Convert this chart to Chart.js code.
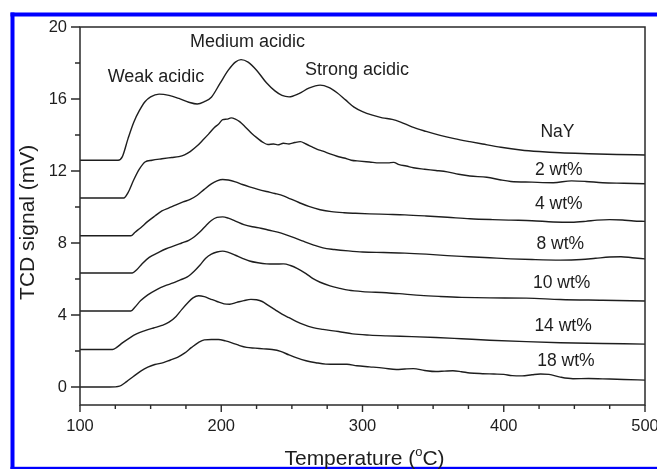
<!DOCTYPE html>
<html>
<head>
<meta charset="utf-8">
<script src="https://cdn.jsdelivr.net/npm/chart.js@4.4.1/dist/chart.umd.min.js"></script>
<style>
  html, body { margin: 0; padding: 0; background: #ffffff; }
  #wrap { width: 657px; height: 469px; position: relative; }
  canvas { display: block; }
</style>
</head>
<body>
<div id="wrap"><canvas id="tpd" width="657" height="469"></canvas></div>
<script>
// NH3-TPD profiles: temperature (°C) and TCD signal (mV), one pair of arrays per sample
const tNaY = [100,127,130,134,138,142,146,150,156,163,170,177,183,188,193,199,205,210,214,219,225,232,238,243,248,255,262,270,276,282,288,294,300,307,314,321,327,335,345,355,365,376,385,398,412,425,440,460,480,500];
const vNaY = [12.6,12.6,12.8,13.8,14.7,15.35,15.85,16.12,16.27,16.2,16.03,15.82,15.72,15.85,16.1,16.85,17.6,18.05,18.19,18.05,17.6,16.9,16.45,16.2,16.12,16.3,16.6,16.77,16.65,16.35,15.95,15.55,15.3,15.1,14.95,14.87,14.72,14.45,14.2,13.98,13.8,13.63,13.5,13.32,13.17,13.08,13.01,12.96,12.92,12.89];

const t2 = [100,131,134,138,142,146,151,158,165,170,174,178,183,187,191,195,198,201,204,207,210,213,217,222,226,229,233,237,240,244,248,252,256,260,264,268,272,277,282,287,292,298,305,312,318,322,326,331,336,344,352,360,368,376,388,398,405,420,435,448,458,470,485,500];
const v2 = [10.5,10.5,10.8,11.5,12.1,12.5,12.6,12.68,12.75,12.8,12.9,13.08,13.4,13.72,14.05,14.4,14.6,14.85,14.88,14.95,14.88,14.74,14.45,14.05,13.8,13.62,13.47,13.5,13.45,13.54,13.5,13.58,13.63,13.5,13.35,13.2,13.1,12.95,12.82,12.72,12.6,12.55,12.5,12.45,12.45,12.48,12.35,12.28,12.18,12.1,12.03,11.95,11.82,11.72,11.65,11.5,11.42,11.38,11.35,11.45,11.42,11.35,11.32,11.29];

const t4 = [100,136,139,143,148,153,158,163,168,173,178,183,188,193,197,201,205,210,215,220,226,232,238,244,249,255,262,270,278,287,295,305,318,330,345,360,376,392,405,420,435,448,458,466,475,484,492,500];
const v4 = [8.4,8.4,8.6,8.85,9.2,9.5,9.78,9.95,10.12,10.28,10.42,10.65,10.98,11.28,11.45,11.53,11.5,11.4,11.25,11.12,10.98,10.86,10.75,10.62,10.45,10.25,10.03,9.85,9.74,9.68,9.65,9.62,9.59,9.56,9.5,9.43,9.35,9.3,9.27,9.24,9.17,9.15,9.2,9.27,9.3,9.28,9.22,9.2];

const t8 = [100,137,140,144,149,155,161,167,172,177,181,185,189,193,197,201,205,210,216,222,228,234,240,246,252,258,265,272,280,290,300,315,330,345,360,375,390,405,420,440,455,465,475,483,491,500];
const v8 = [6.33,6.33,6.5,6.85,7.2,7.45,7.68,7.85,8.0,8.15,8.35,8.62,8.95,9.25,9.42,9.45,9.38,9.22,9.02,8.9,8.82,8.71,8.6,8.45,8.28,8.1,7.9,7.73,7.64,7.56,7.5,7.47,7.44,7.38,7.3,7.24,7.18,7.12,7.08,7.05,7.08,7.15,7.22,7.24,7.18,7.12];

const t10 = [100,136,139,143,148,154,160,166,171,176,181,185,189,193,197,201,205,210,215,220,226,232,238,244,249,254,260,265,270,277,284,290,300,317,330,341,355,370,390,416,440,470,500];
const v10 = [4.22,4.22,4.45,4.8,5.12,5.4,5.62,5.78,5.95,6.12,6.45,6.78,7.15,7.38,7.5,7.55,7.48,7.32,7.15,7.0,6.9,6.84,6.83,6.84,6.75,6.58,6.3,6.02,5.82,5.62,5.48,5.38,5.3,5.24,5.16,5.09,5.03,4.98,4.95,4.94,4.86,4.82,4.78];

const t14 = [100,123,126,130,135,140,146,152,158,163,168,172,176,180,184,188,192,197,202,206,211,216,221,225,229,233,238,243,248,253,258,265,272,283,293,305,317,335,352,370,390,416,440,470,500];
const v14 = [2.08,2.08,2.2,2.45,2.72,2.95,3.13,3.28,3.42,3.6,3.92,4.3,4.65,4.95,5.07,5.02,4.9,4.75,4.62,4.6,4.7,4.8,4.87,4.85,4.75,4.55,4.3,4.05,3.85,3.65,3.48,3.3,3.2,3.08,2.95,2.88,2.84,2.8,2.75,2.68,2.6,2.52,2.46,2.42,2.38];

const t18 = [100,121,128,133,138,143,148,153,159,164,169,174,179,184,188,193,198,203,208,213,218,224,230,236,242,248,254,260,267,274,282,289,296,305,315,324,330,336,344,352,358,364,370,376,385,393,400,406,413,420,426,432,440,449,460,470,485,500];
const v18 = [0,0,0.05,0.3,0.6,0.88,1.1,1.25,1.35,1.5,1.65,1.88,2.2,2.48,2.62,2.64,2.64,2.56,2.44,2.3,2.2,2.16,2.12,2.08,1.98,1.78,1.6,1.46,1.35,1.27,1.26,1.26,1.18,1.12,1.05,0.97,1.0,1.02,0.92,0.86,0.88,0.9,0.85,0.78,0.74,0.72,0.7,0.63,0.62,0.68,0.72,0.7,0.55,0.46,0.47,0.45,0.42,0.38];

// Sample names and where their labels sit (temperature, signal)
const sampleNames = ['NaY', '2 wt%', '4 wt%', '8 wt%', '10 wt%', '14 wt%', '18 wt%'];
const sampleLabelT = [438, 439, 439, 440, 441, 442, 444];
const sampleLabelV = [14.18, 12.06, 10.13, 7.91, 5.79, 3.39, 1.46];

// Acid-site annotations above the NaY profile
const siteNames = ['Weak acidic', 'Medium acidic', 'Strong acidic'];
const siteT = [153.8, 218.6, 296.1];
const siteV = [17.21, 19.15, 17.6];

// Axis ticks
const xMajor = [100, 200, 300, 400, 500];
const xMinor = [125, 150, 175, 225, 250, 275, 325, 350, 375, 425, 450, 475];
const yMajor = [0, 4, 8, 12, 16, 20];
const yMinor = [2, 6, 10, 14, 18];

const temps = [tNaY, t2, t4, t8, t10, t14, t18];
const signals = [vNaY, v2, v4, v8, v10, v14, v18];

const INK = '#1e1e1e';
const FONT = '"Liberation Sans", Arial, sans-serif';

const datasets = sampleNames.map((name, k) => ({
  label: name,
  data: temps[k].map((t, i) => ({ x: t, y: signals[k][i] })),
  borderColor: INK,
  borderWidth: 1.4,
  pointRadius: 0,
  fill: false,
  cubicInterpolationMode: 'monotone'
}));

// Page frame, plot box, ticks, titles and in-plot labels
const decorations = {
  id: 'decorations',
  beforeDraw(chart) {
    const c = chart.ctx;
    c.save();
    c.fillStyle = '#ffffff';
    c.fillRect(0, 0, chart.width, chart.height);
    c.fillStyle = '#0000ff';
    c.fillRect(10.5, 12.5, chart.width - 10.5, 4);
    c.fillRect(10.5, 12.5, 4, chart.height - 12.5);
    c.fillRect(10.5, 466.8, chart.width - 10.5, 3);
    c.restore();
  },
  afterDraw(chart) {
    const c = chart.ctx;
    const a = chart.chartArea;
    const xs = chart.scales.x, ys = chart.scales.y;
    c.save();
    c.strokeStyle = '#2a2a2a';
    c.lineWidth = 1.5;
    c.strokeRect(a.left, a.top, a.right - a.left, a.bottom - a.top);

    c.lineWidth = 1.4;
    c.beginPath();
    xMajor.forEach(v => { const p = xs.getPixelForValue(v); c.moveTo(p, a.bottom); c.lineTo(p, a.bottom + 7); });
    xMinor.forEach(v => { const p = xs.getPixelForValue(v); c.moveTo(p, a.bottom); c.lineTo(p, a.bottom + 4); });
    yMajor.forEach(v => { const p = ys.getPixelForValue(v); c.moveTo(a.left, p); c.lineTo(a.left - 9, p); });
    yMinor.forEach(v => { const p = ys.getPixelForValue(v); c.moveTo(a.left, p); c.lineTo(a.left - 5, p); });
    c.stroke();

    c.fillStyle = INK;
    c.textAlign = 'center';
    c.textBaseline = 'middle';
    c.font = '18px ' + FONT;
    siteNames.forEach((s, i) => c.fillText(s, xs.getPixelForValue(siteT[i]), ys.getPixelForValue(siteV[i])));
    c.font = '17.5px ' + FONT;
    sampleNames.forEach((s, i) => c.fillText(s, xs.getPixelForValue(sampleLabelT[i]), ys.getPixelForValue(sampleLabelV[i])));

    // x-axis title with superscript degree mark
    c.textBaseline = 'alphabetic';
    c.textAlign = 'left';
    const big = '21px ' + FONT, small = '13px ' + FONT;
    const p1 = 'Temperature (', p2 = 'o', p3 = 'C)';
    c.font = big; const w1 = c.measureText(p1).width; const w3 = c.measureText(p3).width;
    c.font = small; const w2 = c.measureText(p2).width;
    const total = w1 + w2 + w3;
    let x0 = 364.5 - total / 2;
    const base = 465;
    c.font = big; c.fillText(p1, x0, base);
    c.font = small; c.fillText(p2, x0 + w1, base - 9);
    c.font = big; c.fillText(p3, x0 + w1 + w2, base);

    // y-axis title
    c.translate(33.5, 222.3);
    c.rotate(-Math.PI / 2);
    c.textAlign = 'center';
    c.font = big;
    c.fillText('TCD signal (mV)', 0, 0);
    c.restore();
  }
};

new Chart(document.getElementById('tpd'), {
  type: 'line',
  data: { datasets },
  options: {
    responsive: false,
    devicePixelRatio: 1,
    animation: false,
    layout: { padding: { left: 0, top: 27, right: 12, bottom: 0 } },
    plugins: { legend: { display: false }, tooltip: { enabled: false } },
    scales: {
      x: {
        type: 'linear', min: 100, max: 500,
        afterBuildTicks: s => { s.ticks = xMajor.map(v => ({ value: v })); },
        afterFit: s => { s.height = 64; s.paddingRight = 0; s.paddingLeft = 0; },
        ticks: { color: INK, font: { family: FONT, size: 16.5 }, padding: 12, maxRotation: 0 },
        grid: { display: false, drawTicks: false },
        border: { display: false }
      },
      y: {
        type: 'linear', min: -1, max: 20,
        afterBuildTicks: s => { s.ticks = yMajor.map(v => ({ value: v })); },
        afterFit: s => { s.width = 80; },
        ticks: { color: INK, font: { family: FONT, size: 16.5 }, padding: 13 },
        grid: { display: false, drawTicks: false },
        border: { display: false }
      }
    }
  },
  plugins: [decorations]
});
</script>
</body>
</html>
